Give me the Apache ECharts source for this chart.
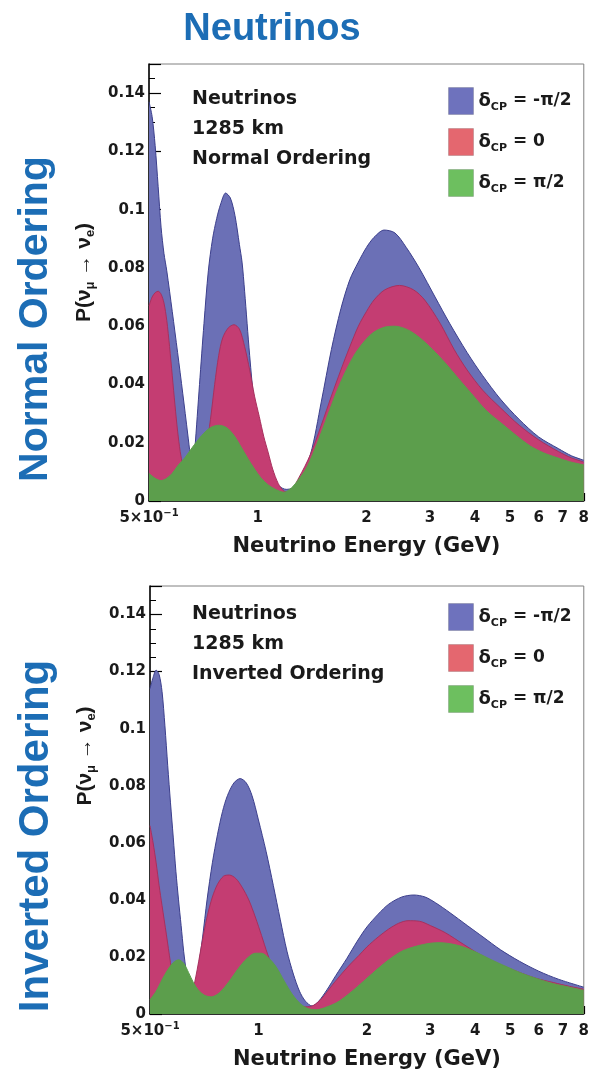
<!DOCTYPE html>
<html>
<head>
<meta charset="utf-8">
<script src="https://cdn.jsdelivr.net/npm/echarts@6/dist/echarts.min.js"></script>
<style>html,body{margin:0;padding:0;background:#fff}#c{width:592px;height:1071px}</style>
</head>
<body>
<div id="c"></div>
<script>
// ---- data (energy in GeV, appearance probability) ----
const seriesNames = ['δCP = -π/2', 'δCP = 0', 'δCP = π/2'];
const xLabelValues = [0.5, 1, 2, 3, 4, 5, 6, 7, 8];
const xTickValues = [0.5, 0.6, 0.7, 0.8, 0.9, 1, 2, 3, 4, 5, 6, 7, 8];

// Normal ordering
const noMinusHalfPi = [[0.5,0.137],[0.51,0.132],[0.52,0.122],[0.53,0.108],[0.54,0.094],[0.55,0.085],[0.56,0.079],[0.58,0.065],[0.6,0.051],[0.62,0.037],[0.64,0.023],[0.65,0.016],[0.66,0.009],[0.67,0.018],[0.69,0.04],[0.71,0.061],[0.73,0.079],[0.75,0.09],[0.77,0.097],[0.79,0.102],[0.815,0.1057],[0.84,0.104],[0.865,0.098],[0.89,0.088],[0.905,0.082],[0.92,0.072],[0.95,0.05],[0.98,0.033],[1.02,0.022],[1.06,0.014],[1.1,0.008],[1.15,0.005],[1.2,0.004],[1.25,0.0045],[1.3,0.007],[1.4,0.016],[1.5,0.034],[1.6,0.052],[1.7,0.066],[1.8,0.076],[1.9,0.082],[2.0,0.087],[2.1,0.0905],[2.24,0.093],[2.4,0.092],[2.58,0.087],[2.8,0.08],[3.1,0.07],[3.4,0.061],[3.8,0.051],[4.2,0.043],[4.7,0.035],[5.3,0.028],[6.0,0.022],[6.8,0.018],[7.4,0.0155],[8,0.014]];
const noZero = [[0.5,0.067],[0.51,0.07],[0.52,0.0715],[0.53,0.072],[0.54,0.071],[0.55,0.068],[0.56,0.062],[0.57,0.053],[0.58,0.043],[0.59,0.033],[0.6,0.024],[0.61,0.017],[0.62,0.012],[0.63,0.007],[0.64,0.004],[0.65,0.002],[0.66,0.0015],[0.68,0.003],[0.7,0.009],[0.72,0.018],[0.74,0.028],[0.76,0.04],[0.78,0.05],[0.8,0.056],[0.83,0.0595],[0.86,0.0605],[0.89,0.059],[0.92,0.053],[0.95,0.045],[0.98,0.036],[1.01,0.029],[1.04,0.022],[1.07,0.0165],[1.1,0.011],[1.14,0.006],[1.18,0.0035],[1.22,0.003],[1.3,0.008],[1.4,0.016],[1.5,0.026],[1.6,0.036],[1.7,0.045],[1.8,0.053],[1.9,0.06],[2.0,0.065],[2.1,0.069],[2.25,0.0725],[2.47,0.074],[2.7,0.0725],[2.9,0.069],[3.2,0.061],[3.5,0.052],[3.8,0.045],[4.2,0.038],[4.7,0.032],[5.3,0.026],[6.0,0.021],[6.8,0.017],[7.4,0.0148],[8,0.0134]];
const noPlusHalfPi = [[0.5,0.0095],[0.52,0.0078],[0.54,0.007],[0.56,0.0078],[0.58,0.0095],[0.6,0.012],[0.63,0.015],[0.66,0.0185],[0.7,0.0225],[0.74,0.0252],[0.78,0.026],[0.82,0.0252],[0.86,0.0225],[0.9,0.0185],[0.94,0.0145],[0.98,0.011],[1.02,0.008],[1.07,0.0055],[1.12,0.004],[1.18,0.003],[1.24,0.0045],[1.3,0.0075],[1.36,0.011],[1.42,0.016],[1.5,0.0235],[1.58,0.031],[1.66,0.038],[1.76,0.045],[1.86,0.0505],[1.98,0.055],[2.1,0.058],[2.25,0.0597],[2.4,0.06],[2.6,0.0588],[2.8,0.0562],[3.05,0.052],[3.3,0.0475],[3.6,0.042],[3.9,0.037],[4.3,0.031],[4.75,0.0265],[5.2,0.0225],[5.7,0.0188],[6.2,0.0165],[6.7,0.015],[7.3,0.0135],[8,0.0124]];

// Inverted ordering
const ioMinusHalfPi = [[0.5,0.114],[0.51,0.118],[0.52,0.1205],[0.53,0.119],[0.54,0.113],[0.55,0.101],[0.56,0.087],[0.57,0.074],[0.58,0.062],[0.59,0.05],[0.6,0.04],[0.61,0.031],[0.62,0.022],[0.63,0.015],[0.64,0.008],[0.65,0.004],[0.66,0.003],[0.67,0.008],[0.68,0.015],[0.7,0.027],[0.72,0.04],[0.745,0.053],[0.77,0.063],[0.795,0.071],[0.82,0.0765],[0.855,0.081],[0.89,0.0825],[0.925,0.081],[0.96,0.0765],[1.0,0.068],[1.05,0.057],[1.1,0.045],[1.15,0.033],[1.2,0.022],[1.25,0.014],[1.3,0.008],[1.35,0.0045],[1.41,0.0028],[1.47,0.0045],[1.55,0.0085],[1.64,0.0135],[1.76,0.0195],[1.88,0.0255],[2.0,0.0305],[2.15,0.035],[2.3,0.0385],[2.5,0.041],[2.7,0.0417],[2.9,0.041],[3.1,0.039],[3.4,0.0355],[3.8,0.031],[4.2,0.027],[4.7,0.0225],[5.3,0.0185],[6.0,0.015],[6.8,0.0122],[8,0.0094]];
const ioZero = [[0.5,0.066],[0.51,0.06],[0.52,0.053],[0.53,0.045],[0.54,0.038],[0.555,0.028],[0.57,0.018],[0.585,0.01],[0.6,0.005],[0.615,0.002],[0.63,0.002],[0.65,0.006],[0.67,0.013],[0.695,0.024],[0.72,0.034],[0.745,0.041],[0.77,0.0455],[0.8,0.0483],[0.83,0.0487],[0.865,0.0475],[0.9,0.0445],[0.94,0.04],[0.98,0.034],[1.02,0.0275],[1.06,0.021],[1.11,0.0145],[1.16,0.0095],[1.22,0.0055],[1.28,0.0035],[1.35,0.0025],[1.42,0.003],[1.5,0.0055],[1.6,0.01],[1.7,0.014],[1.8,0.0175],[1.9,0.0205],[2.0,0.0235],[2.15,0.027],[2.3,0.0298],[2.45,0.0318],[2.6,0.0327],[2.8,0.0325],[3.0,0.031],[3.3,0.0285],[3.7,0.0245],[4.1,0.021],[4.6,0.0178],[5.2,0.015],[5.9,0.0125],[6.6,0.011],[7.3,0.0097],[8,0.0087]];
const ioPlusHalfPi = [[0.5,0.005],[0.52,0.008],[0.54,0.012],[0.56,0.0155],[0.58,0.018],[0.6,0.019],[0.62,0.0178],[0.64,0.0145],[0.66,0.011],[0.68,0.0085],[0.71,0.0065],[0.74,0.006],[0.78,0.0075],[0.83,0.0115],[0.88,0.016],[0.93,0.0195],[0.98,0.0213],[1.02,0.0213],[1.07,0.0195],[1.12,0.0165],[1.18,0.0115],[1.24,0.007],[1.31,0.0035],[1.38,0.0018],[1.45,0.0015],[1.55,0.0025],[1.65,0.004],[1.76,0.0065],[1.88,0.0095],[2.0,0.0125],[2.15,0.016],[2.3,0.019],[2.5,0.022],[2.75,0.0238],[3.0,0.0248],[3.2,0.025],[3.45,0.0245],[3.7,0.0235],[4.0,0.0218],[4.4,0.0192],[4.9,0.0165],[5.45,0.014],[6.0,0.0122],[6.6,0.0106],[7.3,0.0094],[8,0.0083]];

// ---- styling ----
const fills = ['#6b70b6', '#c43d72', '#5c9e4c'];
const edges = ['#3c3f8c', '#a8305e', '#5c9e4c'];
const legendColors = ['#6e72bd', '#e4676f', '#6dbf5f'];
const TXT = '#1a1a1a';
const PLOT_FONT = 'DejaVu Sans';
const HEAD_FONT = 'Liberation Sans';

const chart = echarts.init(document.getElementById('c'), null, {renderer: 'canvas'});

function xAxisFor(gridIndex) {
  return {
    type: 'log', logBase: 10, gridIndex, min: 0.5, max: 8,
    axisLine: {show: true, onZero: false, lineStyle: {color: '#000', width: 1.5}},
    axisTick: {show: true, inside: true, length: 8, lineStyle: {color: '#000', width: 1.2}, customValues: xTickValues},
    minorTick: {show: false},
    splitLine: {show: false},
    axisLabel: {
      customValues: xLabelValues, margin: 7, color: TXT,
      fontFamily: PLOT_FONT, fontWeight: 'bold', fontSize: 15,
      formatter: v => (Math.abs(v - 0.5) < 1e-9 ? '{a|5×10}{sup|−1}' : '{a|' + Math.round(v) + '}'),
      rich: {
        a: {fontFamily: PLOT_FONT, fontWeight: 'bold', fontSize: 15, color: TXT, lineHeight: 20},
        sup: {fontFamily: PLOT_FONT, fontWeight: 'bold', fontSize: 10, color: TXT, lineHeight: 10, verticalAlign: 'top'}
      }
    },
    name: 'Neutrino Energy (GeV)', nameLocation: 'middle', nameGap: 35,
    nameTextStyle: {fontFamily: PLOT_FONT, fontWeight: 'bold', fontSize: 21, color: TXT}
  };
}
function yAxisFor(gridIndex, shiftUp) {
  return {
    type: 'value', gridIndex, min: 0, max: 0.15, interval: 0.02,
    axisLine: {show: true, onZero: false, lineStyle: {color: '#000', width: 1.5}},
    axisTick: {show: true, inside: true, length: 12, lineStyle: {color: '#000', width: 1.2}},
    minorTick: {show: true, splitNumber: 4, length: 6, lineStyle: {color: '#000', width: 1}},
    splitLine: {show: false}, minorSplitLine: {show: false},
    axisLabel: {
      margin: 4, color: TXT, fontFamily: PLOT_FONT, fontWeight: 'bold', fontSize: 15,
      formatter: v => (v > 0.145 ? '' : String(+v.toFixed(3)))
    },
    name: '{m|P(ν}{s|μ}{m| → ν}{s|e}{m|)}', nameLocation: 'middle', nameRotate: 90, nameGap: 51,
    nameTextStyle: {
      padding: [0, 0, 0, shiftUp * 2],
      rich: {
        m: {fontFamily: HEAD_FONT, fontWeight: 'bold', fontSize: 21, color: TXT, lineHeight: 26},
        s: {fontFamily: HEAD_FONT, fontWeight: 'bold', fontSize: 13, color: TXT, lineHeight: 13, verticalAlign: 'bottom'}
      }
    }
  };
}
function seriesFor(gridIndex, arrays) {
  return arrays.map((d, i) => ({
    name: seriesNames[i], type: 'line', xAxisIndex: gridIndex, yAxisIndex: gridIndex,
    data: d, showSymbol: false, smooth: 0.3,
    lineStyle: {color: edges[i], width: 1},
    itemStyle: {color: fills[i]},
    areaStyle: {color: fills[i], opacity: 1},
    z: 2 + i, silent: true, animation: false
  }));
}
function legendFor(top) {
  return {
    orient: 'vertical', left: 448, top, padding: 0, itemWidth: 25, itemHeight: 27, itemGap: 13,
    icon: 'rect', selectedMode: false,
    data: seriesNames.map((n, i) => ({name: n, itemStyle: {color: legendColors[i], borderColor: 'rgba(0,0,0,0.15)', borderWidth: 1}})),
    formatter: n => '{d|δ}{s|CP}{t|' + n.slice(3) + '}',
    textStyle: {
      rich: {
        d: {fontFamily: PLOT_FONT, fontWeight: 'bold', fontSize: 18, color: TXT, lineHeight: 24},
        s: {fontFamily: PLOT_FONT, fontWeight: 'bold', fontSize: 11, color: TXT, lineHeight: 11, verticalAlign: 'bottom'},
        t: {fontFamily: PLOT_FONT, fontWeight: 'bold', fontSize: 17, color: TXT, lineHeight: 24}
      }
    }
  };
}
function infoText(x, y, lines) {
  return lines.map((t, k) => ({
    type: 'text', left: x, top: y + k * 30,
    style: {text: t, fontFamily: PLOT_FONT, fontWeight: 'bold', fontSize: 19, fill: TXT}
  }));
}

const option = {
  backgroundColor: '#fff',
  animation: false,
  grid: [
    {left: 149, top: 64, right: 3, height: 437, show: true, borderColor: '#808080', borderWidth: 1, containLabel: false},
    {left: 150, top: 586, right: 3, height: 431, show: true, borderColor: '#808080', borderWidth: 1, containLabel: false}
  ],
  xAxis: [xAxisFor(0), xAxisFor(1)],
  yAxis: [yAxisFor(0, 10), yAxisFor(1, 44)],
  legend: [legendFor(87), legendFor(603)],
  series: seriesFor(0, [noMinusHalfPi, noZero, noPlusHalfPi]).concat(seriesFor(1, [ioMinusHalfPi, ioZero, ioPlusHalfPi])),
  graphic: [
    {type: 'text', x: 272, y: 30, style: {text: 'Neutrinos', fontFamily: HEAD_FONT, fontWeight: 'bold', fontSize: 38, fill: '#1c6db5', align: 'center', verticalAlign: 'middle'}},
    {type: 'text', x: 36, y: 319, rotation: Math.PI / 2, style: {text: 'Normal Ordering', fontFamily: HEAD_FONT, fontWeight: 'bold', fontSize: 41, fill: '#1c6db5', align: 'center', verticalAlign: 'middle'}},
    {type: 'text', x: 36, y: 836, rotation: Math.PI / 2, style: {text: 'Inverted Ordering', fontFamily: HEAD_FONT, fontWeight: 'bold', fontSize: 42, fill: '#1c6db5', align: 'center', verticalAlign: 'middle'}}
  ].concat(infoText(192, 90, ['Neutrinos', '1285 km', 'Normal Ordering']))
   .concat(infoText(192, 605, ['Neutrinos', '1285 km', 'Inverted Ordering']))
};
chart.setOption(option);
</script>
</body>
</html>
